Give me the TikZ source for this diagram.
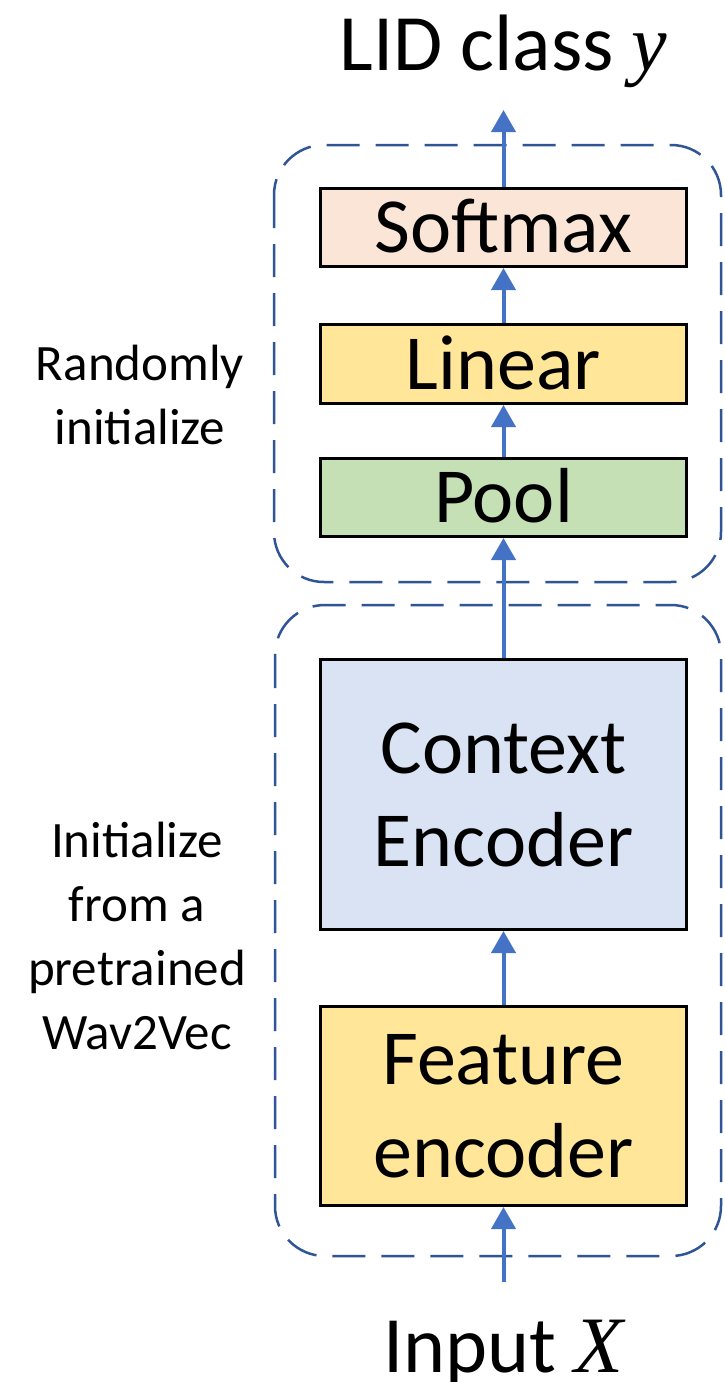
\documentclass[tikz,border=0pt]{standalone}
\usepackage{fontspec}
\setmainfont{Carlito}
\newfontfamily\varfont{Liberation Serif}
\newcommand{\varsym}[1]{{\varfont\itshape #1}}
\usetikzlibrary{arrows.meta}
\definecolor{peach}{HTML}{FBE5D6}
\definecolor{yel}{HTML}{FFE699}
\definecolor{grn}{HTML}{C5E0B4}
\definecolor{lblue}{HTML}{DAE3F3}
\definecolor{arrowblue}{HTML}{4472C4}
\definecolor{dashblue}{HTML}{2F5597}
\tikzset{
  layer/.style={draw=black, line width=3pt, minimum width=366pt, inner sep=0pt,
    font=\fontsize{78}{93}\selectfont, align=center},
  onel/.style={layer, text height=50pt, text depth=0pt},
  flow/.style={draw=arrowblue, line width=4pt, -{Triangle[length=22pt,width=24pt]}},
  group/.style={draw=dashblue, line width=2.5pt, dash pattern=on 33pt off 16pt, rounded corners=50pt},
  sidelabel/.style={inner sep=0pt, align=center, font=\fontsize{51}{64}\selectfont},
  biglabel/.style={inner sep=0pt, font=\fontsize{80}{96}\selectfont}
}
\begin{document}
\begin{tikzpicture}[x=1pt,y=-1pt]
\useasboundingbox (0,0) rectangle (724,1382);
\fill[white] (0,0) rectangle (724,1382);
% dashed groups
\draw[group] (274,145) rectangle (721,582);
\draw[group] (275,605) rectangle (721,1256);
% layers
\node[onel, fill=peach, minimum height=78pt] (soft) at (503.5,227.5) {Softmax};
\node[onel, fill=yel, minimum height=79pt] (lin) at (503.5,364) {Linear};
\node[onel, fill=grn, minimum height=78pt] (pool) at (503.5,497.5) {Pool};
\node[layer, fill=lblue, minimum height=270pt] (ctx) at (503.5,794.5) {Context\\Encoder};
\node[layer, fill=yel, minimum height=199pt] (feat) at (503.5,1106) {Feature\\encoder};
% labels
\node[biglabel, anchor=base] (out) at (503.5,70) {LID class \varsym{y}};
\node[biglabel, anchor=base] (inp) at (503.5,1372) {Input \varsym{X}};
\node[sidelabel] (rand) at (140,394.5) {Randomly\\initialize};
\node[sidelabel] (pre) at (137,936) {Initialize\\from a\\pretrained\\Wav2Vec};
% arrow ends
\coordinate (top) at (503.5,110);
\coordinate (bot) at (503.5,1282);
% arrows
\draw[flow] (soft.north) -- (top);
\draw[flow] (lin.north) -- (soft.south);
\draw[flow] (pool.north) -- (lin.south);
\draw[flow] (ctx.north) -- (pool.south);
\draw[flow] (feat.north) -- (ctx.south);
\draw[flow] (bot) -- (feat.south);
\end{tikzpicture}
\end{document}
